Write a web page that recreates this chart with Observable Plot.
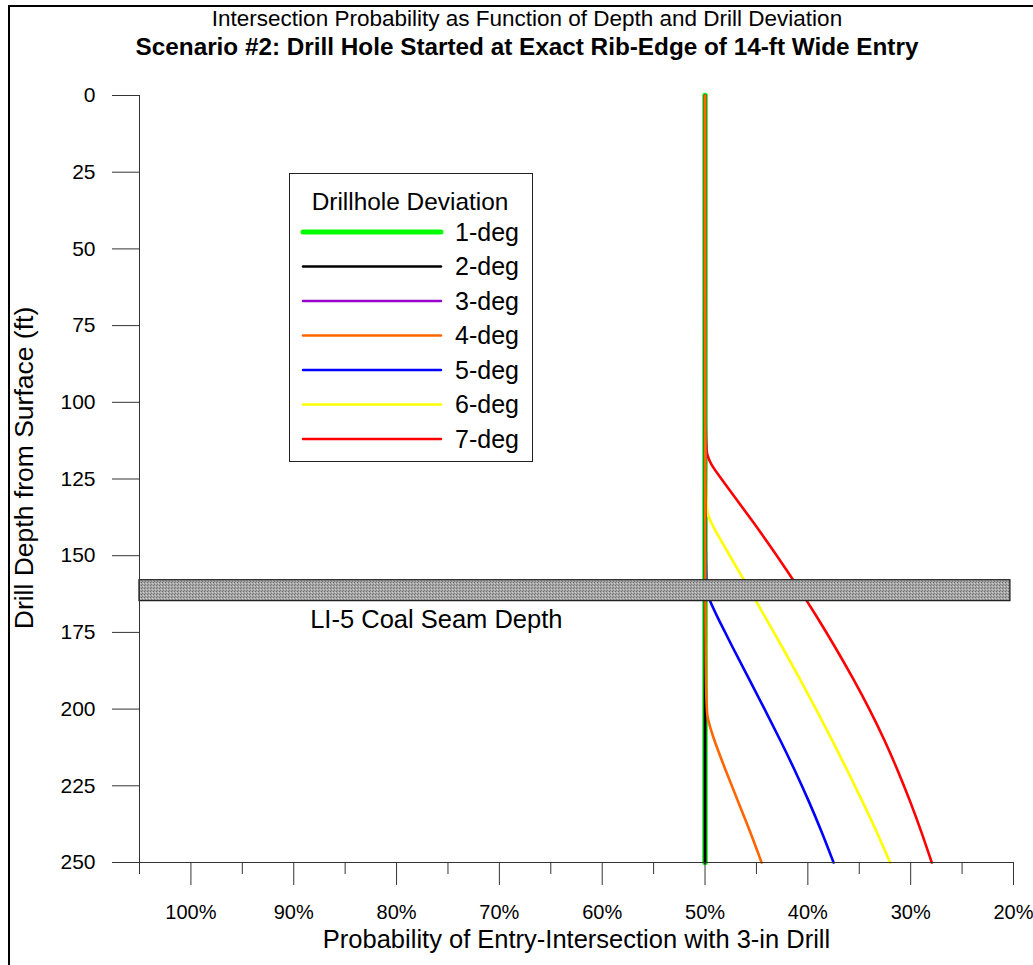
<!DOCTYPE html>
<html>
<head>
<meta charset="utf-8">
<script src="https://cdn.jsdelivr.net/npm/d3@7"></script>
<script src="https://cdn.jsdelivr.net/npm/@observablehq/plot@0.6"></script>
<style>
  body { margin: 0; background: #fff; font-family: "Liberation Sans", Arial, sans-serif; }
  #wrap { position: relative; width: 1033px; height: 965px; overflow: hidden; background: #fff; }
  .frameTop { position: absolute; left: 8px; top: 5px; width: 1030px; height: 2px; background: #000; }
  .frameLeft { position: absolute; left: 8px; top: 5px; width: 2px; height: 965px; background: #000; }
  .title { position: absolute; left: 0; width: 1054px; text-align: center; line-height: 26px; color: #000; white-space: nowrap; }
  #t1 { top: 6px; font-size: 22.5px; }
  #t2 { top: 34px; font-size: 24.3px; font-weight: bold; }
  #chart { position: absolute; left: 0; top: 60px; }
  #legend { position: absolute; left: 289px; top: 173px; }
</style>
</head>
<body>
<div id="wrap">
  <div class="frameTop"></div>
  <div class="frameLeft"></div>
  <div class="title" id="t1">Intersection Probability as Function of Depth and Drill Deviation</div>
  <div class="title" id="t2">Scenario #2: Drill Hole Started at Exact Rib-Edge of 14-ft Wide Entry</div>
  <div id="chart"></div>
  <div id="legend"></div>
</div>
<script>
// ---------- data ----------
const seriesNames  = ["1-deg", "2-deg", "3-deg", "4-deg", "5-deg", "6-deg", "7-deg"];
const seriesColors = ["#00ff00", "#000000", "#9900cc", "#ff6600", "#0000ff", "#ffff00", "#ff0000"];
const legendTitle  = "Drillhole Deviation";

// depth (ft) and probability (%) for each deviation
const depth1 = [0, 250];                 const prob1 = [50, 50];
const depth2 = [0, 250];                 const prob2 = [50, 50];
const depth3 = [0, 250];                 const prob3 = [50, 50];
const depth4 = [0, 198, 203, 208, 220, 230, 240, 250];
const prob4  = [50, 50, 49.75, 49.35, 48.0, 46.8, 45.6, 44.5];
const depth5 = [0, 159, 162, 165, 170, 180, 190, 200, 210, 220, 230, 240, 250];
const prob5  = [50, 50, 49.8, 49.5, 48.8, 47.3, 45.75, 44.2, 42.7, 41.25, 39.9, 38.65, 37.5];
const depth6 = [0, 134, 137, 140, 145, 150, 160, 170, 180, 190, 200, 210, 220, 230, 240, 250];
const prob6  = [50, 50, 49.7, 49.3, 48.45, 47.6, 45.85, 44.15, 42.45, 40.8, 39.2, 37.65, 36.15, 34.7, 33.3, 32.0];
const depth7 = [0, 114, 117, 120, 125, 130, 140, 150, 160, 170, 180, 190, 200, 210, 220, 230, 240, 250];
const prob7  = [50, 50, 49.8, 49.5, 48.4, 47.3, 45.1, 43.0, 41.0, 39.1, 37.3, 35.6, 34.0, 32.55, 31.25, 30.05, 28.95, 27.95];

const depths = [depth1, depth2, depth3, depth4, depth5, depth6, depth7];
const probs  = [prob1, prob2, prob3, prob4, prob5, prob6, prob7];

// coal seam band
const seamName = "LI-5 Coal Seam Depth";
const seamTop = 158, seamBottom = 164.8, seamFrom = 105, seamTo = 20.3;
const seamLabelX = 88.4, seamLabelY = 170.8;

// axes
const yTicks = [0, 25, 50, 75, 100, 125, 150, 175, 200, 225, 250];
const xMajorTicks = [100, 90, 80, 70, 60, 50, 40, 30, 20];
const xMinorTicks = [105, 95, 85, 75, 65, 55, 45, 35, 25];
const xDomain = [105, 20];
const yDomain = [0, 250];
const xTitle = "Probability of Entry-Intersection with 3-in Drill";
const yTitle = "Drill Depth from Surface (ft)";

// draw order (index into series)
const drawOrder = [0, 2, 1, 6, 5, 4, 3];

// ---------- build rows ----------
const rowsFor = i => depths[i].map((d, k) => ({series: seriesNames[i], depth: d, prob: probs[i][k]}));

const stippleDefs = () => {
  const defs = d3.create("svg:defs");
  const p = defs.append("pattern").attr("id", "stipple").attr("patternUnits", "userSpaceOnUse")
    .attr("width", 3).attr("height", 3);
  p.append("rect").attr("width", 3).attr("height", 3).attr("fill", "#a6a6a6");
  p.append("rect").attr("x", 0).attr("y", 0).attr("width", 1).attr("height", 1).attr("fill", "#6e6e6e");
  p.append("rect").attr("x", 2).attr("y", 1).attr("width", 1).attr("height", 1).attr("fill", "#d0d0d0");
  p.append("rect").attr("x", 1).attr("y", 2).attr("width", 1).attr("height", 1).attr("fill", "#808080");
  return defs.node();
};

const lineMarks = drawOrder.map(i => Plot.line(rowsFor(i), {
  x: "prob", y: "depth",
  stroke: seriesColors[i],
  strokeWidth: i === 0 ? 5.5 : 2.6,
  strokeLinecap: "round",
  curve: "basis"
}));

const chart = Plot.plot({
  width: 1033,
  height: 905,
  marginTop: 35,
  marginLeft: 139,
  marginRight: 20,
  marginBottom: 103,
  x: {domain: xDomain},
  y: {domain: yDomain, reverse: true},
  style: {fontFamily: "'Liberation Sans', Arial, sans-serif", background: "transparent", color: "#000", overflow: "visible"},
  marks: [
    stippleDefs,
    ...lineMarks,
    Plot.rect([{a: seamFrom, b: seamTo, t: seamTop, u: seamBottom}], {
      x1: "a", x2: "b", y1: "t", y2: "u", fill: "url(#stipple)", stroke: "#222", strokeWidth: 1.3
    }),
    Plot.text([seamName], {x: seamLabelX, y: seamLabelY, text: d => d, textAnchor: "start", fontSize: 25.5, fill: "#000"}),
    Plot.ruleX([xDomain[0]], {y1: yDomain[0], y2: yDomain[1], stroke: "#333", strokeWidth: 1}),
    Plot.ruleY([yDomain[1]], {x1: xDomain[0], x2: xDomain[1], stroke: "#333", strokeWidth: 1}),
    Plot.axisY(yTicks, {anchor: "left", tickSize: 27, tickPadding: 17, fontSize: 21, tickFormat: d => String(d), stroke: "#333", label: null}),
    Plot.axisX(xMajorTicks, {anchor: "bottom", tickSize: 23, tickPadding: 19, fontSize: 20, tickFormat: d => d + "%", stroke: "#333", label: null}),
    Plot.axisX(xMinorTicks, {anchor: "bottom", tickSize: 12, tickFormat: () => "", stroke: "#333", label: null}),
    Plot.text([xTitle], {frameAnchor: "bottom", dy: 85, text: d => d, fontSize: 25.5, fill: "#000"}),
    Plot.text([yTitle], {frameAnchor: "left", textAnchor: "middle", dx: -115, dy: -11, rotate: -90, text: d => d, fontSize: 26.5, fill: "#000"})
  ]
});
document.getElementById("chart").appendChild(chart);

// ---------- legend ----------
const lg = d3.select("#legend").append("svg").attr("width", 245).attr("height", 290)
  .style("font-family", "'Liberation Sans', Arial, sans-serif");
lg.append("rect").attr("x", 0.5).attr("y", 0.5).attr("width", 243).attr("height", 288)
  .attr("fill", "#fff").attr("stroke", "#222").attr("stroke-width", 1);
lg.append("text").attr("x", 121).attr("y", 28).attr("dy", "0.35em").attr("text-anchor", "middle")
  .attr("font-size", 24.4).text(legendTitle);
seriesNames.forEach((name, i) => {
  const y = 59 + i * 34.5;
  lg.append("line").attr("x1", 14).attr("x2", 152).attr("y1", y).attr("y2", y)
    .attr("stroke", seriesColors[i]).attr("stroke-width", i === 0 ? 5 : 2.5).attr("stroke-linecap", "round");
  lg.append("text").attr("x", 166).attr("y", y).attr("dy", "0.35em").attr("font-size", 25).text(name);
});
</script>
</body>
</html>
